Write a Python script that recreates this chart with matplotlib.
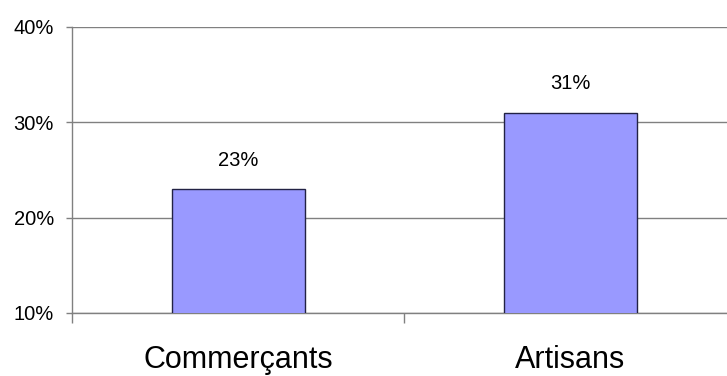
import matplotlib
matplotlib.use('Agg')
import matplotlib.pyplot as plt
from matplotlib.ticker import FuncFormatter

plt.rcParams['font.family'] = ['Liberation Sans', 'DejaVu Sans']

# data
categories = ['Commerçants', 'Artisans']
shares = [23, 31]
y_ticks = [10, 20, 30, 40]

fig = plt.figure(figsize=(7.27, 3.76), dpi=100)
ax = fig.add_axes([0.099, 0.1676, 0.914, 0.7606])

x = range(len(categories))
ax.bar(x, shares, width=0.4, color='#9999ff', edgecolor='#222244',
       linewidth=1.0, zorder=3)

for xi, v in zip(x, shares):
    ax.annotate(f'{v}%', (xi, v), xytext=(0, 14), textcoords='offset points',
                ha='center', va='bottom', fontsize=14.5)

ax.set_xlim(-0.5, len(categories) - 0.5)
ax.set_ylim(10, 40)
ax.set_yticks(y_ticks)
ax.yaxis.set_major_formatter(FuncFormatter(lambda v, p: f'{v:.0f}%'))
ax.yaxis.grid(True, color='#808080', linewidth=1.0, zorder=0)

ax.set_xticks(list(x))
ax.set_xticklabels(categories, fontsize=22)
ax.tick_params(axis='x', length=0, pad=23)
ax.set_xticks([i - 0.5 for i in range(len(categories) + 1)], minor=True)
ax.tick_params(axis='x', which='minor', length=7.5, width=1.0, color='#808080', direction='out')
ax.tick_params(axis='y', length=4, width=1.0, color='#808080', pad=9, labelsize=14.5)

for s in ['top', 'right']:
    ax.spines[s].set_visible(False)
for s in ['left', 'bottom']:
    ax.spines[s].set_color('#808080')
    ax.spines[s].set_linewidth(1.0)

fig.savefig('out.png', dpi=100)
